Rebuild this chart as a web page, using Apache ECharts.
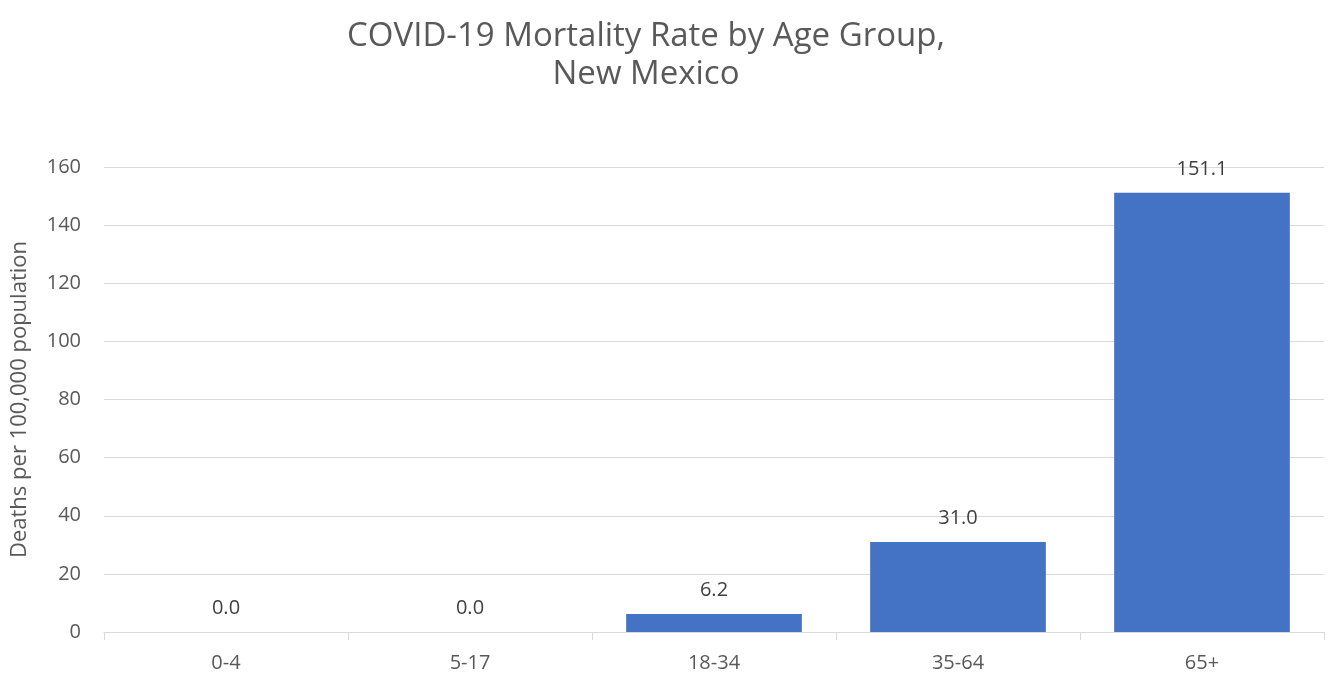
<!DOCTYPE html>
<html>
<head>
<meta charset="utf-8">
<script src="https://cdn.jsdelivr.net/npm/echarts@6/dist/echarts.min.js"></script>
<style>html,body{margin:0;padding:0;background:#fff;}#chart{width:1333px;height:677px;}</style>
</head>
<body>
<div id="chart"></div>
<script>
const categories = ['0-4', '5-17', '18-34', '35-64', '65+'];
const rates = [0.0, 0.0, 6.2, 31.0, 151.1];
const titleText = 'COVID-19 Mortality Rate by Age Group,\nNew Mexico';
const yAxisName = 'Deaths per 100,000 population';

const FONT = '"Open Sans", "Noto Sans", sans-serif';
const chart = echarts.init(document.getElementById('chart'));
chart.setOption({
  animation: false,
  backgroundColor: '#ffffff',
  title: {
    text: titleText,
    left: 641,
    textAlign: 'center',
    top: 13,
    textStyle: { fontFamily: FONT, fontSize: 33, fontWeight: 'normal', color: '#595959', lineHeight: 38 }
  },
  grid: { left: 104, right: 9, top: 167, bottom: 45, containLabel: false },
  xAxis: {
    type: 'category',
    data: categories,
    axisLine: { lineStyle: { color: '#d9d9d9', width: 1 } },
    axisTick: { show: true, length: 8, lineStyle: { color: '#d9d9d9' } },
    axisLabel: { fontFamily: FONT, fontSize: 20, color: '#595959', margin: 21 }
  },
  yAxis: {
    type: 'value',
    min: 0, max: 160, interval: 20,
    name: yAxisName,
    nameLocation: 'middle',
    nameGap: 73,
    nameTextStyle: { fontFamily: FONT, fontSize: 22, color: '#595959' },
    axisLine: { show: false },
    axisTick: { show: false },
    splitLine: { lineStyle: { color: '#d9d9d9', width: 1 } },
    axisLabel: { fontFamily: FONT, fontSize: 20, color: '#595959', margin: 23 }
  },
  series: [{
    type: 'bar',
    data: rates,
    barCategoryGap: '28%',
    itemStyle: { color: '#4472C4' },
    label: {
      show: true,
      position: 'top',
      distance: 14,
      formatter: p => p.value.toFixed(1),
      fontFamily: FONT, fontSize: 20, color: '#404040'
    }
  }]
});
</script>
</body>
</html>
